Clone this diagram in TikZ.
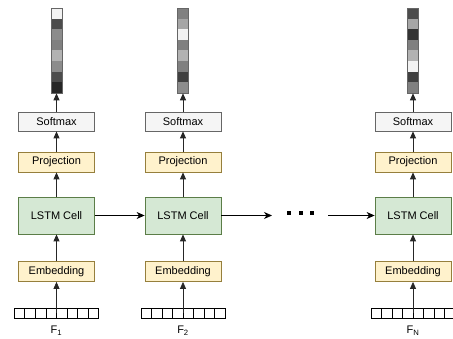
\documentclass[tikz,border=0pt]{standalone}
\usepackage{fontspec}
\setmainfont{Liberation Sans}
\usetikzlibrary{arrows.meta,calc}
\definecolor{smfill}{HTML}{F5F5F5}
\definecolor{smdraw}{HTML}{666666}
\definecolor{yfill}{HTML}{FFF2CC}
\definecolor{ydraw}{HTML}{D6B656}
\definecolor{gfill}{HTML}{D5E8D4}
\definecolor{gdraw}{HTML}{82B366}
\begin{document}
\begin{tikzpicture}[x=1pt,y=-1pt,
  box/.style={draw, line width=0.8pt, minimum width=76pt, inner sep=0pt, font=\fontsize{11}{13}\selectfont},
  smbox/.style={box, fill=smfill, draw=smdraw, minimum height=19pt},
  ybox/.style={box, fill=yfill, draw=ydraw!70!black, minimum height=20pt},
  gbox/.style={box, fill=gfill, draw=gdraw!70!black, minimum height=37pt},
  vec/.style={draw=black!60, line width=0.6pt, minimum width=11pt, minimum height=85pt, inner sep=0pt},
  invec/.style={draw=black, line width=0.6pt, minimum width=84pt, minimum height=10pt, inner sep=0pt},
  up/.style={draw=black!85, line width=0.8pt, -{Triangle[length=7pt,width=6pt]}},
  side/.style={draw=black, line width=0.8pt, -{Stealth[length=8pt,width=7pt,inset=2.5pt]}},
  dot/.style={fill=black, minimum size=4pt, inner sep=0pt},
  lab/.style={font=\fontsize{11}{13}\selectfont}
]
\useasboundingbox (0,0) rectangle (453,339);

\foreach \i/\cx/\lb/\cols in {1/56.5/1/{5,70,45,50,30,45,70,85},
                               2/183/2/{50,35,5,50,30,50,75,45},
                               3/413/N/{70,35,80,50,30,5,75,50}} {
  % output vector
  \foreach \p [count=\k from 0] in \cols {
    \fill[black!\p] (\cx-5.5, 8+\k*10.625) rectangle ++(11,10.625);
  }
  \node[vec] (out\i) at (\cx, 50.5) {};
  % boxes
  \node[smbox] (sm\i) at (\cx, 121.5) {Softmax};
  \node[ybox] (pr\i) at (\cx, 162) {Projection};
  \node[gbox] (ls\i) at (\cx, 215.5) {LSTM Cell};
  \node[ybox] (em\i) at (\cx, 271.5) {Embedding};
  % input vector
  \node[invec, fill=white] (in\i) at (\cx, 313) {};
  \foreach \j in {1,...,7} {
    \draw[line width=0.6pt] ($(in\i.south west)!\j/8!(in\i.south east)$) -- ($(in\i.north west)!\j/8!(in\i.north east)$);
  }
  \node[lab] (f\i) at (\cx, 331) {F\textsubscript{\lb}};
  % arrows
  \draw[up] (in\i.center) -- (em\i.south);
  \draw[up] (em\i) -- (ls\i);
  \draw[up] (ls\i) -- (pr\i);
  \draw[up] (pr\i) -- (sm\i);
  \draw[up] (sm\i) -- (out\i);
}

\node[dot] (d1) at (289,213) {};
\node[dot] (d2) at (300.5,213) {};
\node[dot] (d3) at (312,213) {};
\coordinate (dstart) at (272,215.5);
\coordinate (dend) at (328,215.5);

\draw[side] (ls1) -- (ls2);
\draw[side] (ls2.east) -- (dstart);
\draw[side] (dend) -- (ls3.west);
\end{tikzpicture}
\end{document}
